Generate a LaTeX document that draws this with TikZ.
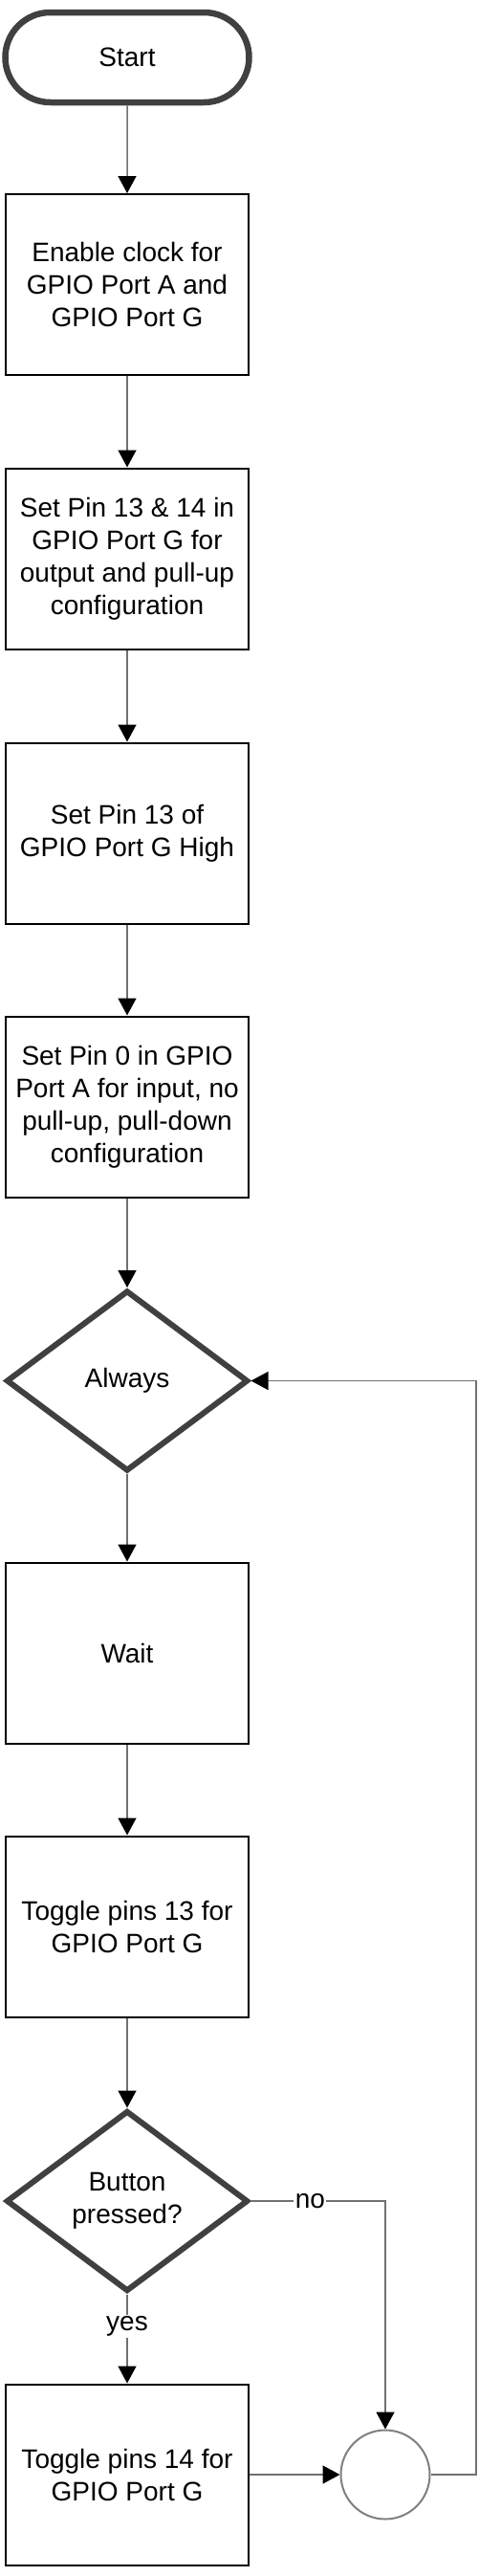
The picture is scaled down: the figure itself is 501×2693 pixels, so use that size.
\documentclass[tikz,border=0pt]{standalone}
\usepackage{fontspec}
\setmainfont{Liberation Sans}
\usetikzlibrary{shapes.geometric,shapes.misc,arrows.meta}
\definecolor{shapegray}{HTML}{404040}
\definecolor{linegray}{HTML}{707070}
\definecolor{circgray}{HTML}{808080}
\begin{document}
\begin{tikzpicture}[x=1bp,y=-1bp,
  every node/.style={font=\fontsize{28bp}{34bp}\selectfont, align=center, inner sep=0pt},
  term/.style={rounded rectangle, draw=shapegray, line width=6.5bp, minimum width=255bp, minimum height=94bp, fill=white},
  proc/.style={rectangle, draw=black, line width=2bp, minimum width=254bp, minimum height=189bp, fill=white},
  dec/.style={diamond, draw=shapegray, line width=6bp, minimum width=253bp, minimum height=189bp, fill=white},
  junc/.style={circle, draw=circgray, line width=2bp, minimum size=93bp, fill=white},
  conn/.style={draw=linegray, line width=1.5bp, -{Triangle[length=18bp,width=19bp,color=black]}},
  lbl/.style={fill=white, inner sep=1.5bp}
]
\useasboundingbox[fill=white] (0,0) rectangle (501,2693);

\node[term] (start) at (133,60) {Start};
\node[proc] (b1) at (133,297.5) {Enable clock for\\GPIO Port A and\\GPIO Port G};
\node[proc] (b2) at (133,584) {Set Pin 13 \& 14 in\\GPIO Port G for\\output and pull-up\\configuration};
\node[proc] (b3) at (133,871) {Set Pin 13 of\\GPIO Port G High};
\node[proc] (b4) at (133,1157) {Set Pin 0 in GPIO\\Port A for input, no\\pull-up, pull-down\\configuration};
\node[dec] (always) at (133,1443.5) {Always};
\node[proc] (wait) at (133,1728) {Wait};
\node[proc] (t13) at (133,2014) {Toggle pins 13 for\\GPIO Port G};
\node[dec] (btn) at (133,2301) {Button\\pressed?};
\node[proc] (t14) at (133,2587) {Toggle pins 14 for\\GPIO Port G};
\node[junc] (j) at (403,2587) {};
\coordinate (ret) at (498,2587);

\draw[conn] (start) -- (b1);
\draw[conn] (b1) -- (b2);
\draw[conn] (b2) -- (b3);
\draw[conn] (b3) -- (b4);
\draw[conn] (b4) -- (always);
\draw[conn] (always) -- (wait);
\draw[conn] (wait) -- (t13);
\draw[conn] (t13) -- (btn);
\draw[conn] (btn) -- node[lbl,pos=0.36] {yes} (t14);
\draw[conn] (btn.east) -| node[lbl,pos=0.22] {no} (j.north);
\draw[conn] (t14) -- (j);
\draw[conn] (j.east) -- (ret) |- (always.east);
\end{tikzpicture}
\end{document}
